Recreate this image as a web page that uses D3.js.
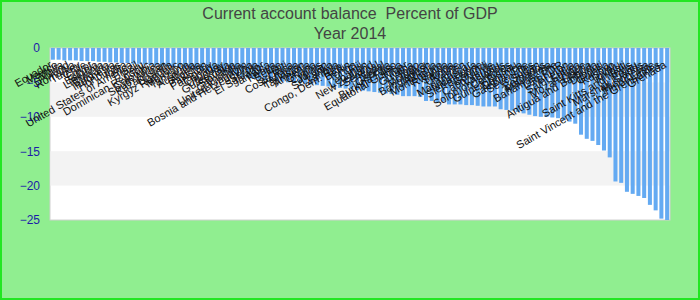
<!DOCTYPE html>
<html>
<head>
<meta charset="utf-8">
<script src="https://cdn.jsdelivr.net/npm/d3@7"></script>
<style>
  body { margin: 0; }
  text { font-family: "Liberation Sans", Arial, sans-serif; }
</style>
</head>
<body>
<div id="chart"></div>
<script>
// Current account balance (% of GDP), 2014, deficits only, sorted
const countries = [
  "Ecuador", "Mexico", "Malta", "Poland", "Romania", "Turkey", "Chile", "Egypt",
  "Estonia", "Lithuania", "Bulgaria", "Indonesia", "Honduras", "India",
  "United States of America", "Brazil", "Peru", "Dominican Republic", "Colombia",
  "South Africa", "Kazakhstan", "Uganda", "Kyrgyz Republic", "Morocco", "Tanzania",
  "Australia", "Algeria", "Pakistan", "Paraguay", "Canada", "Uruguay", "Guatemala",
  "Slovakia", "Cambodia", "United Kingdom", "Bosnia and Herzegovina", "Serbia",
  "El Salvador", "Jamaica", "Kenya", "Belize", "Haiti", "Costa Rica", "Panama",
  "Tajikistan", "Armenia", "Ghana", "Cyprus", "Jordan", "Sri Lanka", "Zambia",
  "Congo, Dem. Rep.", "Benin", "Tonga", "Fiji", "Lebanon", "New Zealand", "Senegal",
  "Nepal", "Georgia", "Burkina Faso", "Equatorial Guinea", "Niger", "Guyana", "Togo",
  "Moldova", "Bangladesh", "Albania", "Montenegro", "Rwanda", "Samoa", "Ukraine",
  "Yemen", "Madagascar", "Nicaragua", "Sierra Leone", "Burundi", "Cabo Verde",
  "Vanuatu", "Solomon Islands", "Comoros", "Guinea-Bissau", "Dominica", "Gambia, The",
  "Seychelles", "Sudan", "Barbados", "Mauritania", "Bahamas, The", "Lao PDR", "Bhutan",
  "Saint Lucia", "Eritrea", "Mozambique", "Liberia", "Antigua and Barbuda", "Djibouti",
  "Guinea", "Kosovo", "Tuvalu", "Kiribati", "Saint Kitts and Nevis", "Palau",
  "Marshall Islands", "Micronesia", "Timor-Leste", "Saint Vincent and the Grenadines",
  "Grenada"
];

const balance = [
  -1.7, -1.7, -1.8, -1.8, -1.8, -1.9, -1.9, -1.9,
  -2.0, -2.0, -2.1, -2.1, -2.2, -2.2, -2.3, -2.3, -2.4,
  -2.5, -2.5, -2.6, -2.7, -2.8, -2.8,
  -3.0, -3.1, -3.2, -3.3, -3.4, -3.5, -3.5, -3.6,
  -3.8, -4.0, -4.2, -4.4, -4.5, -4.6,
  -4.7, -4.8, -4.8, -4.9, -5.0, -5.0, -5.1,
  -5.2, -5.3, -5.4, -5.5, -5.6, -5.7, -5.8, -5.9, -6.0,
  -6.1, -6.2, -6.3, -6.4, -6.5, -6.6, -6.7, -6.8,
  -7.0, -7.0, -7.0, -7.1, -7.7, -7.7, -7.9, -7.8,
  -8.2, -8.2, -8.2, -8.3, -8.3, -8.4, -8.5, -8.5, -8.5,
  -8.9, -9.0, -9.1, -9.3, -9.5, -9.7, -9.9, -10.0, -10.0, -10.1,
  -10.2, -10.5, -10.7, -11.0,
  -12.6, -13.2, -13.5, -14.1, -14.9, -15.9,
  -19.4, -19.6, -20.9, -21.2, -21.5, -21.8, -22.8, -23.6, -24.8, -25.0
];

const yTicks = [0, -5, -10, -15, -20, -25];
const bands = [[-5, -10], [-15, -20]];
const titleLines = ["Current account balance  Percent of GDP", "Year 2014"];

const data = countries.map((c, i) => ({ country: c, value: balance[i] }));

const totalWidth = 700, totalHeight = 300;
const margin = { top: 48, right: 30, bottom: 80, left: 50 };
const width = totalWidth - margin.left - margin.right,
      height = totalHeight - margin.top - margin.bottom;

const svg = d3.select("#chart")
  .append("svg")
  .attr("width", totalWidth)
  .attr("height", totalHeight);

// background + border
svg.append("rect")
  .attr("x", 1).attr("y", 1)
  .attr("width", totalWidth - 2).attr("height", totalHeight - 2)
  .attr("fill", "#90ee90")
  .attr("stroke", "#22e622")
  .attr("stroke-width", 2);

// titles (keep the double space)
svg.selectAll(".title")
  .data(titleLines)
  .enter()
  .append("text")
  .attr("class", "title")
  .attr("x", totalWidth / 2)
  .attr("y", (d, i) => 19 + i * 20)
  .attr("text-anchor", "middle")
  .attr("font-size", 16)
  .attr("fill", "#444")
  .style("white-space", "pre")
  .text((d) => d);

const g = svg.append("g")
  .attr("transform", `translate(${margin.left},${margin.top})`);

const xScale = d3.scaleBand()
  .domain(countries)
  .range([0, width])
  .paddingInner(0.3)
  .paddingOuter(0.15);

const yScale = d3.scaleLinear().domain([-25, 0]).range([height, 0]);

// plot background and alternating bands
g.append("rect")
  .attr("width", width)
  .attr("height", height)
  .attr("fill", "#fff")
  .attr("stroke", "#d0d0d0");

g.selectAll(".band")
  .data(bands)
  .enter()
  .append("rect")
  .attr("class", "band")
  .attr("x", 0.5)
  .attr("width", width - 1)
  .attr("y", (d) => yScale(d[0]))
  .attr("height", (d) => yScale(d[1]) - yScale(d[0]))
  .attr("fill", "#f3f3f3");

// bars
g.selectAll(".bar")
  .data(data)
  .enter()
  .append("rect")
  .attr("class", "bar")
  .attr("x", (d) => xScale(d.country))
  .attr("width", xScale.bandwidth())
  .attr("y", yScale(0))
  .attr("height", (d) => yScale(d.value) - yScale(0))
  .attr("fill", "#64aaf2");

// y axis
const yAxis = g.append("g")
  .call(d3.axisLeft(yScale).tickValues(yTicks).tickSize(0).tickPadding(10));
yAxis.select(".domain").remove();
yAxis.selectAll("text")
  .attr("font-size", 12)
  .attr("fill", "#1c1ca8")
  .style("font-family", "'Liberation Sans', Arial, sans-serif");

// category labels hanging under the zero line
g.selectAll(".label")
  .data(data)
  .enter()
  .append("text")
  .attr("class", "label")
  .attr("transform", (d) =>
    `translate(${xScale(d.country) + xScale.bandwidth() / 2},${yScale(0) + 19}) rotate(-30)`)
  .attr("text-anchor", "end")
  .attr("font-size", 11)
  .attr("fill", "#111")
  .text((d) => d.country);
</script>
</body>
</html>
